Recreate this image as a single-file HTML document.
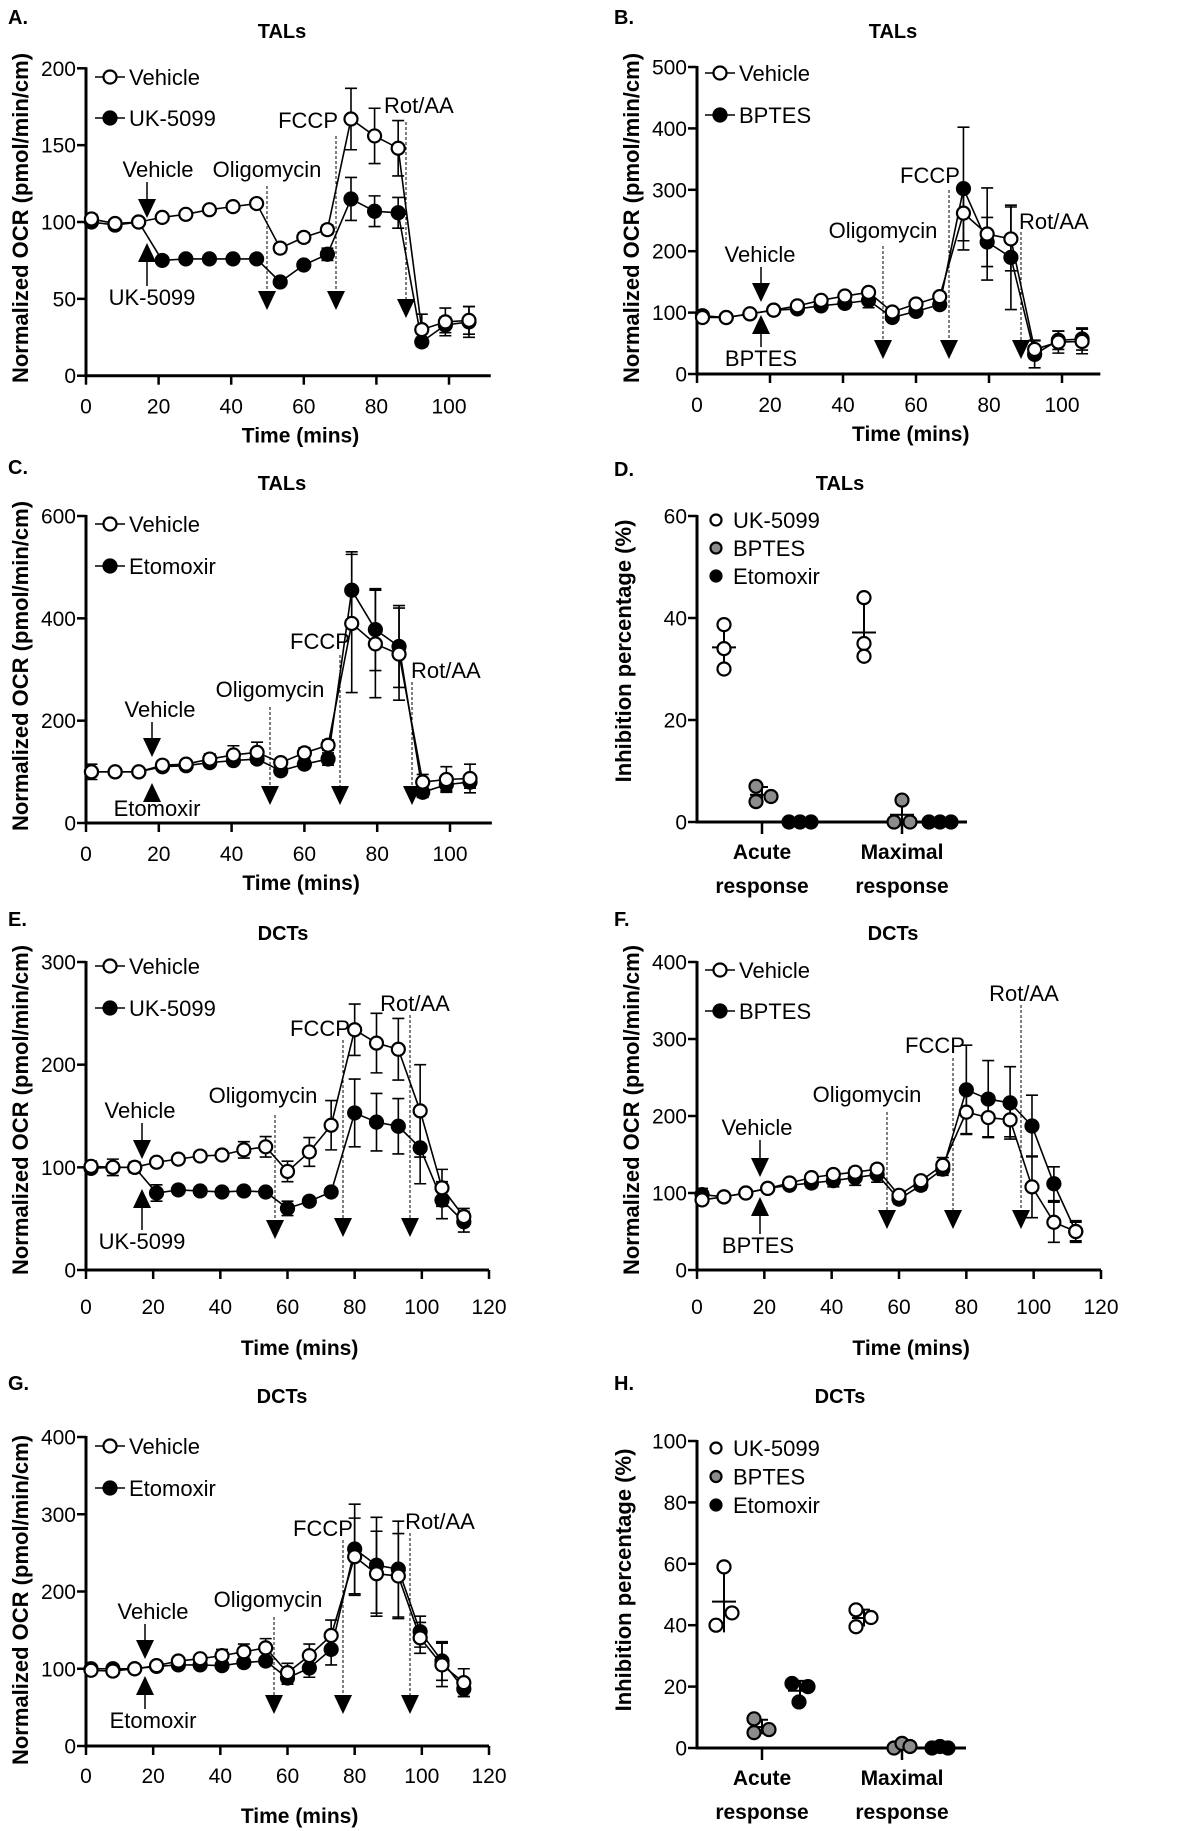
<!DOCTYPE html>
<html><head><meta charset="utf-8">
<style>
html,body{margin:0;padding:0;background:#fff;}
svg{display:block;font-family:"Liberation Sans",Arial,sans-serif;}
</style></head>
<body>
<svg id="fig" width="1200" height="1831" viewBox="0 0 1200 1831" xmlns="http://www.w3.org/2000/svg"></svg>
<script>
// ---------- DATA ----------
const timesTAL = [1.5,8,14.5,21,27.5,34,40.5,47,53.5,60,66.5,73,79.5,86,92.5,99,105.5];
const timesDCT = [1.5,8,14.5,21,27.5,34,40.5,47,53.5,60,66.5,73,80,86.5,93,99.5,106,112.5];

const vehA = [102,99,100,103,105,108,110,112,83,90,95,167,156,148,30,35,36];
const trtA = [100,98,100,75,76,76,76,76,61,72,79,115,107,106,22,33,35];
const vehErrA = [3,2,2,2,2,2,2,2,3,3,3,20,18,18,10,9,9];
const trtErrA = [2,2,2,2,2,2,2,2,2,2,4,14,10,10,3,5,10];

const vehB = [92,92,98,104,111,120,127,133,101,114,126,262,228,220,40,52,53];
const trtB = [95,92,98,104,106,111,115,120,92,102,113,302,215,190,32,55,57];
const vehErrB = [5,4,4,4,4,5,5,6,6,6,6,45,75,52,15,18,20];
const trtErrB = [4,4,4,4,4,5,5,12,6,6,6,100,40,85,22,15,18];

const vehC = [100,100,100,113,115,125,133,138,118,137,152,390,350,330,80,85,87];
const trtC = [100,100,100,110,112,118,122,125,102,115,125,455,378,345,60,75,80];
const vehErrC = [15,5,5,8,8,10,18,20,8,10,10,135,105,90,15,25,28];
const trtErrC = [5,5,5,5,5,5,5,5,8,8,12,75,80,80,10,12,12];

const vehE = [101,100,100,105,108,111,112,117,120,96,115,141,234,221,215,155,80,52];
const trtE = [99,100,100,75,78,77,76,77,76,60,67,76,153,144,140,119,68,47];
const vehErrE = [5,8,5,4,4,4,4,8,10,10,14,24,25,29,30,45,18,8];
const trtErrE = [4,4,4,8,4,4,4,4,4,7,4,4,33,28,27,35,18,10];

const vehF = [91,95,100,106,113,120,124,127,131,97,116,136,205,198,195,108,62,50];
const trtF = [98,95,100,106,110,113,116,120,124,92,110,131,234,222,217,187,112,50];
const vehErrF = [5,5,4,4,4,4,4,6,6,4,5,10,28,25,22,40,26,14];
const trtErrF = [8,5,4,4,4,6,8,10,10,6,6,8,58,50,47,40,22,12];

const vehG = [98,97,100,104,110,113,117,122,127,95,117,143,245,223,220,140,105,82];
const trtG = [100,100,100,103,105,105,104,108,110,88,101,125,255,234,229,148,110,74];
const vehErrG = [4,4,4,4,4,4,8,10,12,12,15,20,50,55,55,20,28,18];
const trtErrG = [4,4,4,4,4,4,4,5,5,8,12,20,58,62,62,20,25,10];

const ticksTAL = [0,20,40,60,80,100];
const ticksDCT = [0,20,40,60,80,100,120];

const groupsInh = ["Acute response","Maximal response"];
const inhD_UK = [[38.7,34.0,30.0],[44.0,35.0,32.5]];
const inhD_BP = [[7.0,4.0,5.0],[0,4.3,0]];
const inhD_ET = [[0,0,0],[0,0,0]];
const inhH_UK = [[40.0,59.0,44.0],[45.0,39.5,42.5]];
const inhH_BP = [[9.5,5.0,6.0],[0,1.5,0.5]];
const inhH_ET = [[21.0,15.0,20.0],[0,0.5,0]];
const ticksD = [0,20,40,60];
const ticksH = [0,20,40,60,80,100];

// ---------- HELPERS ----------
const NS = "http://www.w3.org/2000/svg";
const svg = document.getElementById("fig");
const FS = 22, TFS = 21;
function mk(tag, attrs, parent, text){
  const e = document.createElementNS(NS, tag);
  for (const k in attrs) e.setAttribute(k, attrs[k]);
  if (text !== undefined) e.textContent = text;
  (parent||svg).appendChild(e);
  return e;
}
function txt(parent, x, y, s, size, weight, anchor, name){
  const t = mk("text", {x:x, y:y, "font-size":size, "font-weight":weight||"normal", "text-anchor":anchor||"start", fill:"#000"}, parent, s);
  
  
  return t;
}
function triDown(g, x, top, name){
  const p = mk("polygon", {points:`${x-9},${top} ${x+9},${top} ${x},${top+19}`, fill:"#000"}, g);
  
  
}
function triUp(g, x, tip, name){
  const p = mk("polygon", {points:`${x-9},${tip+19} ${x+9},${tip+19} ${x},${tip}`, fill:"#000"}, g);
  
  
}

function yAxis(g, P, ticks){
  const ax = mk("line", {x1:P.x0, y1:P.yTopPx-1, x2:P.x0, y2:P.y0+1.5, stroke:"#000","stroke-width":3}, g);
  
  
  ticks.forEach(v=>{
    const y = P.ys(v);
    const t = mk("line", {x1:P.x0-9, y1:y, x2:P.x0, y2:y, stroke:"#000","stroke-width":2.5}, g);
    
    
    txt(g, P.x0-10, y+7.5, String(v), TFS, "normal", "end", "y-tick-label");
  });
}

function linePanel(P){
  const g = mk("g", {}, svg);
  
  
  P.xs = t => P.x0 + t*(P.xEndPx - P.x0)/P.xEnd;
  P.ys = v => P.y0 - v*(P.y0 - P.yTopPx)/P.yTop;
  txt(g, P.letterX, P.letterY, P.letter, 20, "bold", "start", "panel-letter");
  txt(g, P.titleX, P.titleY, P.title, 20, "bold", "middle", "panel-title");
  yAxis(g, P, P.yTicks);
  const axEnd = P.xs(P.xAxisMax);
  const xa = mk("line", {x1:P.x0-1.5, y1:P.y0, x2:axEnd, y2:P.y0, stroke:"#000","stroke-width":3}, g);
  
  
  P.xTicks.forEach(v=>{
    const x = P.xs(v);
    const t = mk("line", {x1:x, y1:P.y0, x2:x, y2:P.y0+9, stroke:"#000","stroke-width":2.5}, g);
    
    
    txt(g, x, P.y0+P.tickLblDy, String(v), TFS, "normal", "middle", "x-tick-label");
  });
  txt(g, P.x0 + (axEnd-P.x0)*0.53, P.y0+P.xTitleDy, "Time (mins)", 21, "bold", "middle", "x-axis-title");
  const yl = mk("text", {x:0, y:0, "font-size":22, "font-weight":"bold", "text-anchor":"middle",
    transform:`translate(${P.yLabelX},${P.yLabelY}) rotate(-90)`}, g, "Normalized OCR (pmol/min/cm)");
  
  

  const A = P.ann;
  txt(g, A.vehX, A.vehY, "Vehicle", FS, "normal", "middle", "vehicle-injection-label");
  let l = mk("line", {x1:A.arX, y1:A.vehY+5, x2:A.arX, y2:A.dTri, stroke:"#000","stroke-width":1.5}, g);
   
  triDown(g, A.arX, A.dTri, "vehicle-arrow-head");
  triUp(g, A.arX, A.uTri, "treatment-arrow-head");
  l = mk("line", {x1:A.arX, y1:A.uTri+19, x2:A.arX, y2:A.trtY-19, stroke:"#000","stroke-width":1.5}, g);
   
  txt(g, A.trtX, A.trtY, P.trtName, FS, "normal", "middle", "treatment-injection-label");
  A.inj.forEach(inj=>{
    txt(g, inj.tx, inj.ty, inj.label, FS, "normal", inj.anchor, "injection-label-"+inj.label.toLowerCase().replace('/','-'));
    const d = mk("line", {x1:inj.x, y1:inj.top, x2:inj.x, y2:inj.tri, stroke:"#000","stroke-width":1,"stroke-dasharray":"3,2"}, g);
     
    triDown(g, inj.x, inj.tri, "injection-arrow");
  });

  const series = [
    {vals:P.trt, err:P.trtErr, fill:"#000", name:"treatment"},
    {vals:P.veh, err:P.vehErr, fill:"#fff", name:"vehicle"}
  ];
  series.forEach(s=>{
    s.vals.forEach((v,i)=>{
      const x = P.xs(P.times[i]), y1 = P.ys(v+s.err[i]), y2 = P.ys(v-s.err[i]);
      const e = mk("path", {d:`M${x},${y1}V${y2}M${x-6},${y1}H${x+6}M${x-6},${y2}H${x+6}`, stroke:"#000","stroke-width":1.6, fill:"none"}, g);
      
      
    });
  });
  series.forEach(s=>{
    const pts = s.vals.map((v,i)=>P.xs(P.times[i])+","+P.ys(v)).join(" ");
    const pl = mk("polyline", {points:pts, fill:"none", stroke:"#000","stroke-width":1.6}, g);
    
    
  });
  series.forEach(s=>{
    s.vals.forEach((v,i)=>{
      const c = mk("circle", {cx:P.xs(P.times[i]), cy:P.ys(v), r:6.5, fill:s.fill, stroke:"#000","stroke-width":2.2}, g);
      
      
    });
  });

  [["Vehicle","#fff",P.legY1],[P.trtName,"#000",P.legY2]].forEach(([lab,f,y])=>{
    const lg = mk("g", {}, g);
    
    
    const ll = mk("line", {x1:P.legX-15, y1:y, x2:P.legX+15, y2:y, stroke:"#000","stroke-width":1.6}, lg);
     
    const lc = mk("circle", {cx:P.legX, cy:y, r:6.5, fill:f, stroke:"#000","stroke-width":2.2}, lg);
     
    txt(lg, P.legX+19, y+8, lab, FS, "normal", "start", "legend-label");
  });
}

function inhPanel(P){
  const g = mk("g", {}, svg);
  
  
  P.ys = v => P.y0 - v*(P.y0 - P.yTopPx)/P.yTop;
  txt(g, P.letterX, P.letterY, P.letter, 20, "bold", "start", "panel-letter");
  txt(g, P.titleX, P.titleY, P.title, 20, "bold", "middle", "panel-title");
  yAxis(g, P, P.yTicks);
  const xa = mk("line", {x1:P.x0-1.5, y1:P.y0, x2:P.xEndPx, y2:P.y0, stroke:"#000","stroke-width":3}, g);
   
  const groupX = [762, 902];
  groupsInh.forEach((gn,i)=>{
    const t = mk("line", {x1:groupX[i], y1:P.y0, x2:groupX[i], y2:P.y0+12, stroke:"#000","stroke-width":2.5}, g);
     
    const w = gn.split(" ");
    txt(g, groupX[i], P.y0+37, w[0], 21, "bold", "middle", "x-category-label");
    txt(g, groupX[i], P.y0+71, w[1], 21, "bold", "middle", "x-category-label");
  });
  const yl = mk("text", {x:0, y:0, "font-size":22, "font-weight":"bold", "text-anchor":"middle",
    transform:`translate(${P.yLabelX},${P.yLabelY}) rotate(-90)`}, g, "Inhibition percentage (%)");
   
  const drugs = [
    {d:P.uk, fill:"#fff", off:-38, name:"uk-5099"},
    {d:P.bp, fill:"#8c8c8c", off:0, name:"bptes"},
    {d:P.et, fill:"#000", off:38, name:"etomoxir"}
  ];
  const jitter = P.jitter;
  drugs.forEach((dr,di)=>{
    dr.d.forEach((reps,gi)=>{
      const cx = groupX[gi] + dr.off;
      const mean = reps.reduce((a,b)=>a+b,0)/reps.length;
      const sd = Math.sqrt(reps.reduce((a,b)=>a+(b-mean)*(b-mean),0)/(reps.length-1));
      const e = mk("path", {d:`M${cx},${P.ys(Math.min(P.yTop,mean+sd))}V${P.ys(Math.max(0,mean-sd))}M${cx-6},${P.ys(mean+sd)}H${cx+6}M${cx-12},${P.ys(mean)}H${cx+12}`, stroke:"#000","stroke-width":2, fill:"none"}, g);
      
      
      reps.forEach((v,ri)=>{
        const c = mk("circle", {cx:cx + jitter[di][gi][ri], cy:P.ys(v), r:6.5, fill:dr.fill, stroke:"#000","stroke-width":2.2}, g);
        
        
      });
    });
  });
  [["UK-5099","#fff"],["BPTES","#8c8c8c"],["Etomoxir","#000"]].forEach(([lab,f],i)=>{
    const y = P.legY + i*P.legDy;
    const lg = mk("g", {}, g);
    
    
    const lc = mk("circle", {cx:P.legX, cy:y, r:5.5, fill:f, stroke:"#000","stroke-width":2.2}, lg);
     
    txt(lg, P.legX+17, y+8, lab, FS, "normal", "start", "legend-label");
  });
}

// ---------- PANELS ----------
linePanel({name:"panel-a", letter:"A.", letterX:8, letterY:24, title:"TALs", titleX:282, titleY:38,
  x0:86, xEndPx:449, xEnd:100, xAxisMax:111.5, y0:375.7, yTopPx:68.3, yTop:200,
  yTicks:[0,50,100,150,200], xTicks:ticksTAL, tickLblDy:38, xTitleDy:67, yLabelX:28, yLabelY:218,
  times:timesTAL, veh:vehA, trt:trtA, vehErr:vehErrA, trtErr:trtErrA, trtName:"UK-5099",
  legX:110, legY1:77, legY2:118,
  ann:{vehX:158, vehY:177, arX:147, dTri:199, uTri:243, trtX:152, trtY:305,
    inj:[{label:"Oligomycin", tx:267, ty:177, anchor:"middle", x:267, top:186, tri:291},
         {label:"FCCP", tx:338, ty:128, anchor:"end", x:336, top:136, tri:291},
         {label:"Rot/AA", tx:384, ty:113, anchor:"start", x:406, top:122, tri:299}]}});

linePanel({name:"panel-b", letter:"B.", letterX:614, letterY:24, title:"TALs", titleX:893, titleY:38,
  x0:697, xEndPx:1062, xEnd:100, xAxisMax:110.5, y0:374, yTopPx:67, yTop:500,
  yTicks:[0,100,200,300,400,500], xTicks:ticksTAL, tickLblDy:38, xTitleDy:67, yLabelX:639, yLabelY:218,
  times:timesTAL, veh:vehB, trt:trtB, vehErr:vehErrB, trtErr:trtErrB, trtName:"BPTES",
  legX:720, legY1:73, legY2:115,
  ann:{vehX:760, vehY:262, arX:761, dTri:283, uTri:315, trtX:761, trtY:366,
    inj:[{label:"Oligomycin", tx:883, ty:238, anchor:"middle", x:883, top:246, tri:340},
         {label:"FCCP", tx:930, ty:183, anchor:"middle", x:949, top:190, tri:340},
         {label:"Rot/AA", tx:1019, ty:229, anchor:"start", x:1021, top:232, tri:340}]}});

linePanel({name:"panel-c", letter:"C.", letterX:8, letterY:474, title:"TALs", titleX:282, titleY:490,
  x0:86, xEndPx:450, xEnd:100, xAxisMax:111.5, y0:823, yTopPx:516, yTop:600,
  yTicks:[0,200,400,600], xTicks:ticksTAL, tickLblDy:38, xTitleDy:67, yLabelX:28, yLabelY:666,
  times:timesTAL, veh:vehC, trt:trtC, vehErr:vehErrC, trtErr:trtErrC, trtName:"Etomoxir",
  legX:110, legY1:524, legY2:566,
  ann:{vehX:160, vehY:717, arX:152, dTri:738, uTri:783, trtX:157, trtY:816,
    inj:[{label:"Oligomycin", tx:270, ty:697, anchor:"middle", x:270, top:707, tri:786},
         {label:"FCCP", tx:320, ty:649, anchor:"middle", x:340, top:655, tri:786},
         {label:"Rot/AA", tx:411, ty:678, anchor:"start", x:412, top:682, tri:786}]}});

linePanel({name:"panel-e", letter:"E.", letterX:8, letterY:926, title:"DCTs", titleX:283, titleY:940,
  x0:86, xEndPx:489, xEnd:120, xAxisMax:120, y0:1270, yTopPx:962, yTop:300,
  yTicks:[0,100,200,300], xTicks:ticksDCT, tickLblDy:44, xTitleDy:85, yLabelX:28, yLabelY:1110,
  times:timesDCT, veh:vehE, trt:trtE, vehErr:vehErrE, trtErr:trtErrE, trtName:"UK-5099",
  legX:110, legY1:966, legY2:1008,
  ann:{vehX:140, vehY:1118, arX:142, dTri:1140, uTri:1189, trtX:142, trtY:1249,
    inj:[{label:"Oligomycin", tx:263, ty:1103, anchor:"middle", x:275, top:1115, tri:1220},
         {label:"FCCP", tx:320, ty:1036, anchor:"middle", x:343, top:1040, tri:1218},
         {label:"Rot/AA", tx:415, ty:1011, anchor:"middle", x:410, top:1015, tri:1218}]}});

linePanel({name:"panel-f", letter:"F.", letterX:614, letterY:926, title:"DCTs", titleX:893, titleY:940,
  x0:697, xEndPx:1101, xEnd:120, xAxisMax:120, y0:1270, yTopPx:962, yTop:400,
  yTicks:[0,100,200,300,400], xTicks:ticksDCT, tickLblDy:44, xTitleDy:85, yLabelX:639, yLabelY:1110,
  times:timesDCT, veh:vehF, trt:trtF, vehErr:vehErrF, trtErr:trtErrF, trtName:"BPTES",
  legX:720, legY1:970, legY2:1011,
  ann:{vehX:757, vehY:1135, arX:760, dTri:1158, uTri:1197, trtX:758, trtY:1253,
    inj:[{label:"Oligomycin", tx:867, ty:1102, anchor:"middle", x:887, top:1112, tri:1210},
         {label:"FCCP", tx:935, ty:1053, anchor:"middle", x:953, top:1058, tri:1210},
         {label:"Rot/AA", tx:1024, ty:1001, anchor:"middle", x:1021, top:1005, tri:1210}]}});

linePanel({name:"panel-g", letter:"G.", letterX:8, letterY:1390, title:"DCTs", titleX:282, titleY:1403,
  x0:86, xEndPx:489, xEnd:120, xAxisMax:120, y0:1746, yTopPx:1437, yTop:400,
  yTicks:[0,100,200,300,400], xTicks:ticksDCT, tickLblDy:37, xTitleDy:77, yLabelX:28, yLabelY:1600,
  times:timesDCT, veh:vehG, trt:trtG, vehErr:vehErrG, trtErr:trtErrG, trtName:"Etomoxir",
  legX:110, legY1:1446, legY2:1488,
  ann:{vehX:153, vehY:1619, arX:145, dTri:1640, uTri:1676, trtX:153, trtY:1728,
    inj:[{label:"Oligomycin", tx:268, ty:1607, anchor:"middle", x:274, top:1617, tri:1695},
         {label:"FCCP", tx:323, ty:1536, anchor:"middle", x:343, top:1540, tri:1695},
         {label:"Rot/AA", tx:440, ty:1529, anchor:"middle", x:410, top:1533, tri:1695}]}});

inhPanel({name:"panel-d", letter:"D.", letterX:614, letterY:476, title:"TALs", titleX:840, titleY:490,
  x0:697, xEndPx:967, y0:822, yTopPx:516, yTop:60, yTicks:ticksD, yLabelX:631, yLabelY:651,
  uk:inhD_UK, bp:inhD_BP, et:inhD_ET, legX:716, legY:520, legDy:28,
  jitter:[[[0,0,0],[0,0,0]],[[-6,-6,9],[-8,0,8]],[[-11,0,11],[-11,0,11]]]});

inhPanel({name:"panel-h", letter:"H.", letterX:614, letterY:1390, title:"DCTs", titleX:840, titleY:1403,
  x0:697, xEndPx:966, y0:1748, yTopPx:1441, yTop:100, yTicks:ticksH, yLabelX:631, yLabelY:1580,
  uk:inhH_UK, bp:inhH_BP, et:inhH_ET, legX:716, legY:1448, legDy:28.5,
  jitter:[[[-8,0,8],[-8,-8,7]],[[-8,-8,7],[-8,0,8]],[[-8,-1,8],[-8,0,8]]]});
</script>
</body></html>
